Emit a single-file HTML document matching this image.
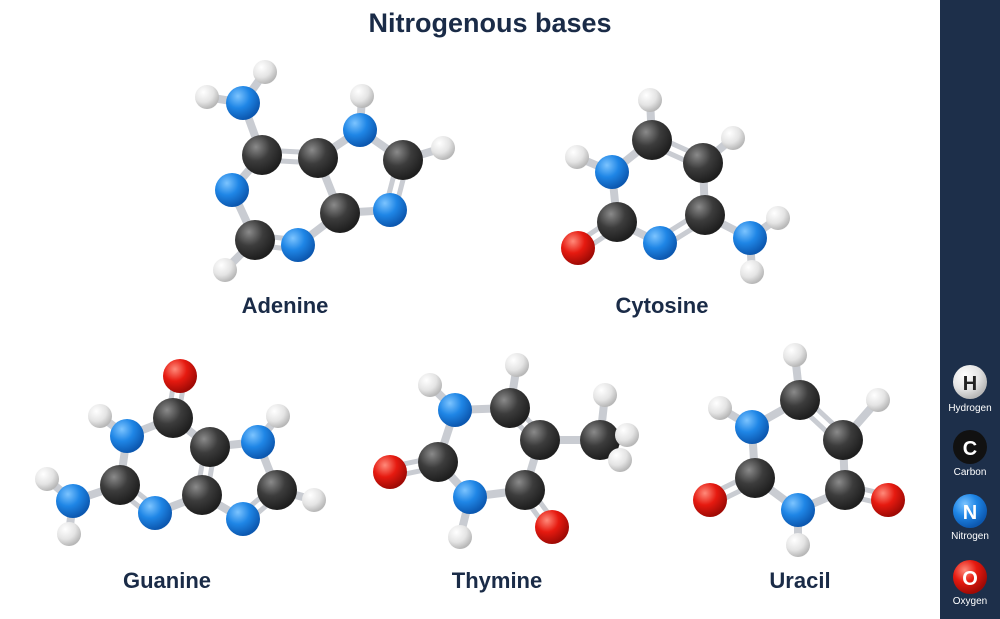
<!DOCTYPE html>
<html><head><meta charset="utf-8"><style>
html,body{margin:0;padding:0;background:#fff;}
body{width:1000px;height:619px;overflow:hidden;position:relative;font-family:"Liberation Sans",sans-serif;}
</style></head><body>
<svg id="s" width="1000" height="619" xmlns="http://www.w3.org/2000/svg" style="position:absolute;left:0;top:0">
<defs>
<radialGradient id="gC" cx="35%" cy="30%" r="70%"><stop offset="0" stop-color="#8a8a8a"/><stop offset="0.5" stop-color="#3c3c3c"/><stop offset="1" stop-color="#1e1e1e"/></radialGradient>
<radialGradient id="gN" cx="35%" cy="30%" r="70%"><stop offset="0" stop-color="#7cc4ff"/><stop offset="0.5" stop-color="#1f86e6"/><stop offset="1" stop-color="#0c58b0"/></radialGradient>
<radialGradient id="gO" cx="35%" cy="30%" r="70%"><stop offset="0" stop-color="#ff8a7a"/><stop offset="0.5" stop-color="#e61a10"/><stop offset="1" stop-color="#a00a05"/></radialGradient>
<radialGradient id="gH" cx="35%" cy="30%" r="70%"><stop offset="0" stop-color="#ffffff"/><stop offset="0.6" stop-color="#e4e4e4"/><stop offset="1" stop-color="#b8b8b8"/></radialGradient>
</defs>
<rect x="940" y="0" width="60" height="619" fill="#1d2f4a"/>
<g id="b"></g><g id="a"></g>
<text x="490" y="32" text-anchor="middle" font-size="27" font-weight="bold" fill="#1a2b47">Nitrogenous bases</text>
<g font-size="22" font-weight="bold" fill="#1a2b47" text-anchor="middle">
<text x="285" y="313">Adenine</text>
<text x="662" y="313">Cytosine</text>
<text x="167" y="588">Guanine</text>
<text x="497" y="588">Thymine</text>
<text x="800" y="588">Uracil</text>
</g>
<g font-size="10" fill="#fff" text-anchor="middle">
<circle cx="970" cy="382" r="17" fill="url(#gH)"/><text x="970" y="390" font-size="20" font-weight="bold" fill="#222">H</text><text x="970" y="411">Hydrogen</text>
<circle cx="970" cy="447" r="17" fill="#111"/><text x="970" y="455" font-size="20" font-weight="bold">C</text><text x="970" y="475">Carbon</text>
<circle cx="970" cy="511" r="17" fill="url(#gN)"/><text x="970" y="519" font-size="20" font-weight="bold">N</text><text x="970" y="539">Nitrogen</text>
<circle cx="970" cy="577" r="17" fill="url(#gO)"/><text x="970" y="585" font-size="20" font-weight="bold">O</text><text x="970" y="604">Oxygen</text>
</g>
</svg>
<script>
var mols=[
{at:[['H',265,72],['H',207,97],['N',243,103],['C',262,155],['C',318,158],['N',360,130],['H',362,96],['C',403,160],['H',443,148],['N',390,210],['C',340,213],['N',298,245],['C',255,240],['H',225,270],['N',232,190]],
 b:[[0,2],[1,2],[2,3],[3,4,2],[4,5],[5,6],[5,7],[7,8],[7,9,2],[9,10],[10,4],[10,11],[11,12,2],[12,13],[12,14],[14,3]]},
{at:[['H',650,100],['C',652,140],['H',733,138],['C',703,163],['N',612,172],['H',577,157],['C',705,215],['N',750,238],['H',778,218],['H',752,272],['N',660,243],['C',617,222],['O',578,248]],
 b:[[0,1],[1,3,2],[3,2],[1,4],[4,5],[3,6],[6,7],[7,8],[7,9],[6,10,2],[10,11],[11,4],[11,12,2]]},
{at:[['O',180,376],['C',173,418],['N',127,436],['H',100,416],['C',120,485],['N',73,501],['H',47,479],['H',69,534],['N',155,513],['C',202,495],['C',210,447],['N',258,442],['H',278,416],['C',277,490],['H',314,500],['N',243,519]],
 b:[[0,1,2],[1,2],[2,3],[2,4],[4,5],[5,6],[5,7],[4,8,2],[8,9],[9,10,2],[10,1],[10,11],[11,12],[11,13],[13,14],[13,15,2],[15,9]]},
{at:[['H',430,385],['N',455,410],['C',510,408],['H',517,365],['C',540,440],['C',600,440],['H',605,395],['H',620,460],['H',627,435],['C',525,490],['O',552,527],['N',470,497],['H',460,537],['C',438,462],['O',390,472]],
 b:[[0,1],[1,2],[2,3],[2,4,2],[4,5],[5,6],[5,7],[5,8],[4,9],[9,10,2],[9,11],[11,12],[11,13],[13,1],[13,14,2]]},
{at:[['H',795,355],['C',800,400],['H',878,400],['C',843,440],['N',752,427],['H',720,408],['C',845,490],['O',888,500],['N',798,510],['H',798,545],['C',755,478],['O',710,500]],
 b:[[0,1],[1,3,2],[3,2],[1,4],[4,5],[3,6],[6,7,2],[6,8],[8,9],[8,10],[10,4],[10,11,2]]}
];
var R={C:20,N:17,O:17,H:12},F={C:'url(#gC)',N:'url(#gN)',O:'url(#gO)',H:'url(#gH)'};
var ns='http://www.w3.org/2000/svg',B=document.getElementById('b'),A=document.getElementById('a');
function ln(x1,y1,x2,y2,w){var l=document.createElementNS(ns,'line');l.setAttribute('x1',x1);l.setAttribute('y1',y1);l.setAttribute('x2',x2);l.setAttribute('y2',y2);l.setAttribute('stroke','#c9ccd2');l.setAttribute('stroke-width',w);B.appendChild(l);}
mols.forEach(function(m){
 m.b.forEach(function(b){var p=m.at[b[0]],q=m.at[b[1]];
  if(b[2]==2){var dx=q[1]-p[1],dy=q[2]-p[2],L=Math.hypot(dx,dy),ox=-dy/L*5,oy=dx/L*5;
   ln(p[1]+ox,p[2]+oy,q[1]+ox,q[2]+oy,5);ln(p[1]-ox,p[2]-oy,q[1]-ox,q[2]-oy,5);}
  else ln(p[1],p[2],q[1],q[2],8);});
 m.at.forEach(function(a){var c=document.createElementNS(ns,'circle');c.setAttribute('cx',a[1]);c.setAttribute('cy',a[2]);c.setAttribute('r',R[a[0]]);c.setAttribute('fill',F[a[0]]);A.appendChild(c);});
});
</script>
</body></html>
